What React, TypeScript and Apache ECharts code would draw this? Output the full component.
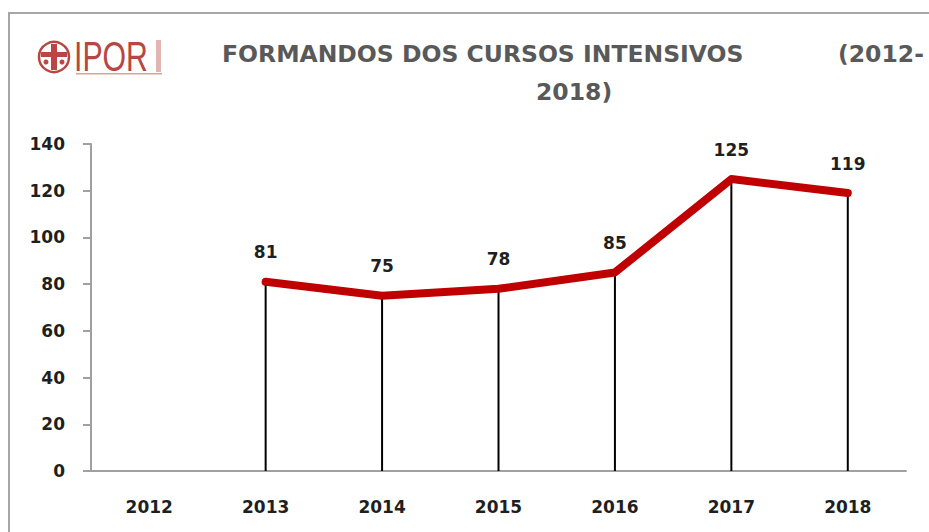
import React, { useEffect, useRef } from "react";
import * as echarts from "echarts";

const categories = ["2012", "2013", "2014", "2015", "2016", "2017", "2018"];
const values: (number | null)[] = [null, 81, 75, 78, 85, 125, 119];
const yMin = 0;
const yMax = 140;
const yInterval = 20;
const titleMain = "FORMANDOS DOS CURSOS INTENSIVOS";
const titleYearA = "(2012-";
const titleYearB = "2018)";
const logoText = "IPOR";

const FONT = "DejaVu Sans";
const RED = "#c00000";
const LOGO_RED = "#b84642";

export default function App() {
  const ref = useRef<HTMLDivElement>(null);
  useEffect(() => {
    if (!ref.current) return;
    const chart = echarts.init(ref.current, null, { renderer: "svg" });
    chart.setOption({
      animation: false,
      backgroundColor: "#ffffff",
      grid: { left: 91, right: 23, top: 144, bottom: 61 },
      xAxis: {
        type: "category",
        data: categories,
        boundaryGap: true,
        axisLine: { show: true, lineStyle: { color: "#a0a0a0", width: 2 } },
        axisTick: { show: false },
        axisLabel: {
          margin: 27,
          fontFamily: FONT,
          fontWeight: "bold",
          fontSize: 17,
          color: "#1f1f1f",
        },
        splitLine: { show: false },
      },
      yAxis: {
        type: "value",
        min: yMin,
        max: yMax,
        interval: yInterval,
        axisLine: { show: true, lineStyle: { color: "#a0a0a0", width: 2 } },
        axisTick: { show: true, inside: false, length: 8, lineStyle: { color: "#a0a0a0", width: 2 } },
        axisLabel: {
          margin: 26,
          fontFamily: FONT,
          fontWeight: "bold",
          fontSize: 17,
          color: "#1f1f1f",
        },
        splitLine: { show: false },
      },
      series: [
        {
          type: "bar",
          data: values,
          barWidth: 2,
          itemStyle: { color: "#000000" },
          z: 1,
          silent: true,
        },
        {
          type: "line",
          data: values,
          connectNulls: false,
          showSymbol: true,
          symbol: "circle",
          symbolSize: 2,
          lineStyle: { color: RED, width: 8, cap: "round", join: "round" },
          itemStyle: { color: RED },
          z: 3,
          label: {
            show: true,
            position: "top",
            distance: 20,
            fontFamily: FONT,
            fontWeight: "bold",
            fontSize: 17,
            color: "#1f1f1f",
          },
        },
      ],
      graphic: [
        {
          type: "rect",
          shape: { x: 9, y: 13, width: 1000, height: 600 },
          style: { fill: "none", stroke: "#a6a6a6", lineWidth: 2 },
          silent: true,
        },
        {
          type: "circle",
          shape: { cx: 54, cy: 57, r: 15 },
          style: { fill: "none", stroke: LOGO_RED, lineWidth: 2.5 },
        },
        {
          type: "rect",
          shape: { x: 51, y: 44, width: 6, height: 26 },
          style: { fill: LOGO_RED },
        },
        {
          type: "rect",
          shape: { x: 41, y: 52, width: 26, height: 5 },
          style: { fill: LOGO_RED },
        },
        {
          type: "circle",
          shape: { cx: 46, cy: 62, r: 2.5 },
          style: { fill: LOGO_RED },
        },
        {
          type: "circle",
          shape: { cx: 62, cy: 62, r: 2.5 },
          style: { fill: LOGO_RED },
        },
        {
          type: "text",
          x: 74,
          y: 36,
          scaleX: 0.72,
          style: {
            text: logoText,
            fontFamily: "Liberation Sans",
            fontSize: 42,
            fill: LOGO_RED,
            textVerticalAlign: "top",
          },
        },
        {
          type: "rect",
          shape: { x: 76, y: 73, width: 86, height: 1.5 },
          style: { fill: "#d9a09e" },
        },
        {
          type: "rect",
          shape: { x: 156, y: 40, width: 5, height: 32 },
          style: { fill: "#e2b5b3" },
        },
        {
          type: "text",
          x: 222,
          y: 66,
          style: {
            text: titleMain,
            fontFamily: FONT,
            fontWeight: "bold",
            fontSize: 23.5,
            fill: "#595959",
            textVerticalAlign: "bottom",
          },
        },
        {
          type: "text",
          x: 838,
          y: 66,
          style: {
            text: titleYearA,
            fontFamily: FONT,
            fontWeight: "bold",
            fontSize: 23.5,
            fill: "#595959",
            textVerticalAlign: "bottom",
          },
        },
        {
          type: "text",
          x: 536,
          y: 104,
          style: {
            text: titleYearB,
            fontFamily: FONT,
            fontWeight: "bold",
            fontSize: 23.5,
            fill: "#595959",
            textVerticalAlign: "bottom",
          },
        },
      ],
    });
    return () => chart.dispose();
  }, []);
  return (
    <div
      ref={ref}
      style={{ position: "fixed", left: 0, top: 0, width: 929, height: 532 }}
    />
  );
}
